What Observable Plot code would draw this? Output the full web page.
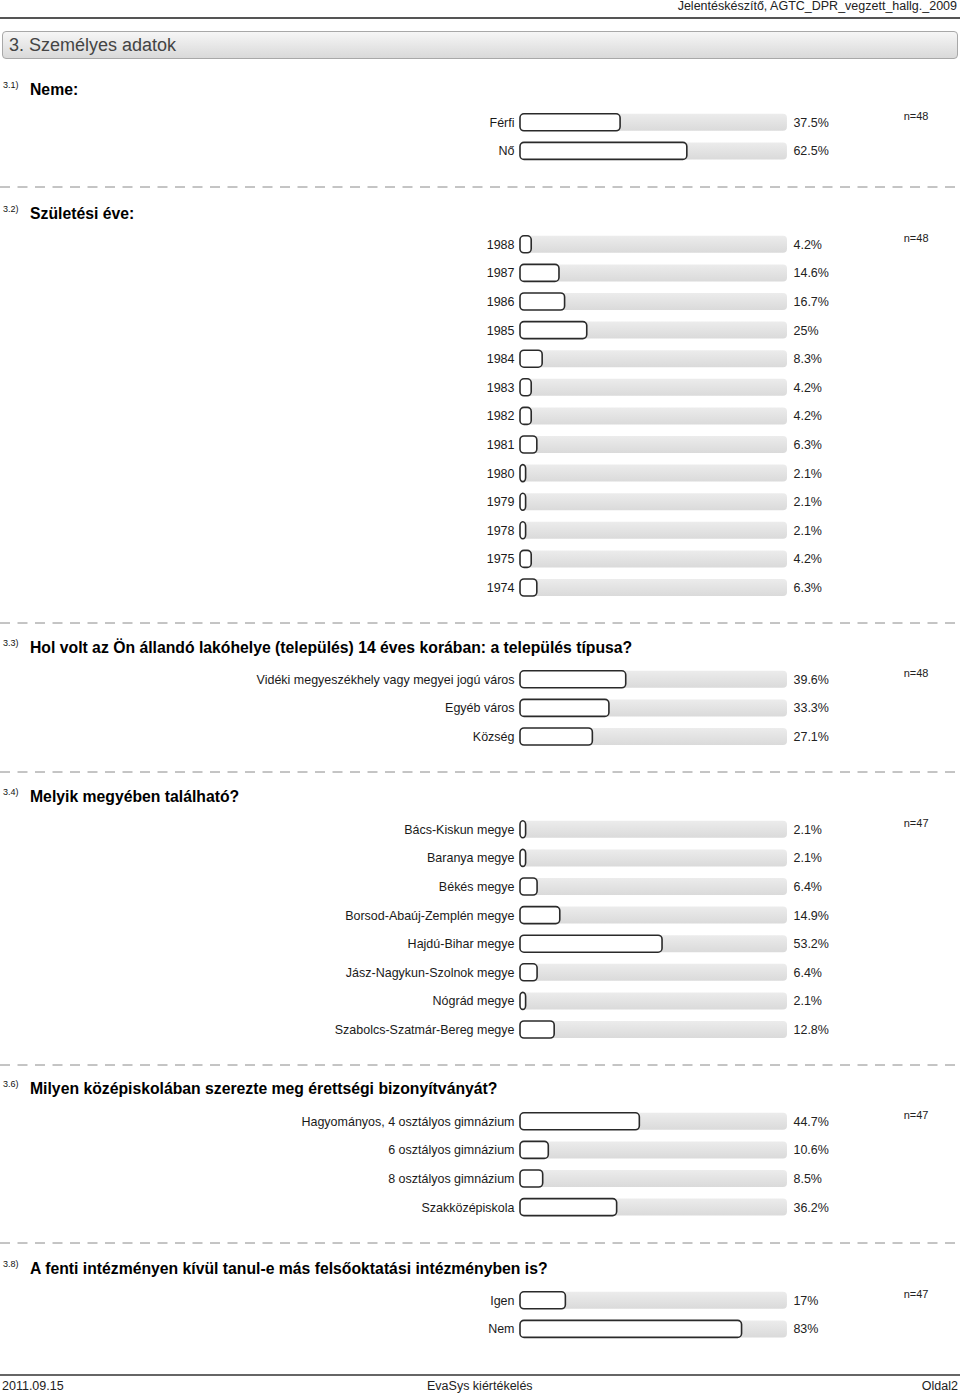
<!DOCTYPE html>
<html>
<head>
<meta charset="utf-8">
<script src="https://cdn.jsdelivr.net/npm/d3@7"></script>
<script src="https://cdn.jsdelivr.net/npm/@observablehq/plot@0.6"></script>
<style>
  html, body { margin: 0; padding: 0; background: #fff; }
  body { font-family: "Liberation Sans", Arial, sans-serif; }
  #page { position: relative; width: 960px; height: 1395px; overflow: hidden; }
  .abs { position: absolute; line-height: 0; }
  .abs svg { display: block; }
  .hdr { right: 3px; top: 0px; font-size: 12.5px; color: #222; line-height: 13px; }
  .topline { left: 0; top: 17px; width: 960px; height: 2px; background: #555; }
  .titlebox { left: 2px; top: 31px; width: 956px; height: 28px; border: 1px solid #a8a8a8; border-radius: 4px;
    background: linear-gradient(#f6f6f6, #d9d9d9); font-size: 18px; color: #444; line-height: 26px; padding-left: 6px; box-sizing: border-box; }
  .qnum { left: 3px; font-size: 9px; color: #111; line-height: 10px; }
  .qtext { left: 30px; font-size: 15.75px; font-weight: bold; color: #000; line-height: 20px; white-space: nowrap; }
  .sep { left: 0; width: 960px; height: 2px; }
  .footline { left: 0; top: 1374px; width: 960px; height: 2px; background: #666; }
  .foot { top: 1379px; font-size: 12.5px; color: #222; line-height: 15px; }
</style>
</head>
<body>
<div id="page"></div>
<script>
// ---------- data ----------
const sectionTitle = "3. Személyes adatok";
const headerText = "Jelentéskészítő, AGTC_DPR_vegzett_hallg._2009";
const footerLeft = "2011.09.15";
const footerCenter = "EvaSys kiértékelés";
const footerRight = "Oldal2";

const q1Num = "3.1)";
const q1Text = "Neme:";
const q1Labels = ["Férfi", "Nő"];
const q1Values = [37.5, 62.5];
const q1N = "n=48";

const q2Num = "3.2)";
const q2Text = "Születési éve:";
const q2Labels = ["1988", "1987", "1986", "1985", "1984", "1983", "1982", "1981", "1980", "1979", "1978", "1975", "1974"];
const q2Values = [4.2, 14.6, 16.7, 25, 8.3, 4.2, 4.2, 6.3, 2.1, 2.1, 2.1, 4.2, 6.3];
const q2N = "n=48";

const q3Num = "3.3)";
const q3Text = "Hol volt az Ön állandó lakóhelye (település) 14 éves korában: a település típusa?";
const q3Labels = ["Vidéki megyeszékhely vagy megyei jogú város", "Egyéb város", "Község"];
const q3Values = [39.6, 33.3, 27.1];
const q3N = "n=48";

const q4Num = "3.4)";
const q4Text = "Melyik megyében található?";
const q4Labels = ["Bács-Kiskun megye", "Baranya megye", "Békés megye", "Borsod-Abaúj-Zemplén megye", "Hajdú-Bihar megye", "Jász-Nagykun-Szolnok megye", "Nógrád megye", "Szabolcs-Szatmár-Bereg megye"];
const q4Values = [2.1, 2.1, 6.4, 14.9, 53.2, 6.4, 2.1, 12.8];
const q4N = "n=47";

const q6Num = "3.6)";
const q6Text = "Milyen középiskolában szerezte meg érettségi bizonyítványát?";
const q6Labels = ["Hagyományos, 4 osztályos gimnázium", "6 osztályos gimnázium", "8 osztályos gimnázium", "Szakközépiskola"];
const q6Values = [44.7, 10.6, 8.5, 36.2];
const q6N = "n=47";

const q8Num = "3.8)";
const q8Text = "A fenti intézményen kívül tanul-e más felsőoktatási intézményben is?";
const q8Labels = ["Igen", "Nem"];
const q8Values = [17, 83];
const q8N = "n=47";

const scaleMax = 100;

// ---------- layout ----------
const page = document.getElementById("page");
function addDiv(cls, text, style) {
  const d = document.createElement("div");
  d.className = "abs " + cls;
  if (text != null) d.textContent = text;
  Object.assign(d.style, style || {});
  page.appendChild(d);
  return d;
}
addDiv("hdr", headerText);
addDiv("topline");
addDiv("titlebox", sectionTitle);

function addSep(y) {
  const d = addDiv("sep", null, { top: (y - 1) + "px" });
  d.innerHTML = '<svg width="960" height="2"><line x1="0" x2="960" y1="1" y2="1" stroke="#8a8a8a" stroke-width="1" stroke-dasharray="10,7.5"/></svg>';
}

const STEP = 28.6;
const BAR = 17;
const pInner = 1 - BAR / STEP;

function section(num, text, labels, values, nText, headY, firstRowY, id) {
  addDiv("qnum", num, { top: (headY - 10) + "px" });
  addDiv("qtext", text, { top: (headY - 10) + "px" });
  const data = labels.map((label, i) => ({ label, value: values[i] }));
  const h = labels.length * STEP;
  const defs = () => {
    const g = d3.create("svg:defs");
    const lg = g.append("linearGradient").attr("id", id).attr("x1", 0).attr("x2", 0).attr("y1", 0).attr("y2", 1);
    lg.append("stop").attr("offset", "0%").attr("stop-color", "#ececec");
    lg.append("stop").attr("offset", "100%").attr("stop-color", "#dadada");
    return g.node();
  };
  const chart = Plot.plot({
    width: 960,
    height: h,
    marginTop: 0, marginBottom: 0, marginLeft: 0, marginRight: 32,
    style: { fontFamily: "'Liberation Sans', Arial, sans-serif", fontSize: "12.5px", color: "#222", background: "transparent", overflow: "visible" },
    x: { domain: [0, scaleMax], range: [520, 787], axis: null },
    y: { domain: labels, paddingInner: pInner, paddingOuter: pInner / 2, round: false, axis: null },
    marks: [
      defs,
      Plot.barX(data, { x1: () => 0, x2: () => scaleMax, y: "label", fill: `url(#${id})`, rx: 4 }),
      Plot.barX(data, { x1: () => 0, x2: "value", y: "label", fill: "white", stroke: "#2a2a2a", strokeWidth: 1.6, rx: 4 }),
      Plot.text(data, { x: () => 0, y: "label", text: "label", textAnchor: "end", dx: -6, fontSize: 12.5, fill: "#1a1a1a" }),
      Plot.text(data, { x: () => scaleMax, y: "label", text: d => d.value + "%", textAnchor: "start", dx: 6, fontSize: 12.5, fill: "#222" }),
      Plot.text([labels[0]], { y: d => d, frameAnchor: "right", text: () => nText, textAnchor: "end", dy: -6, fontSize: 11, fill: "#222" })
    ]
  });
  const wrap = addDiv("", null, { left: "0px", top: (firstRowY - STEP / 2) + "px" });
  wrap.appendChild(chart);
}

section(q1Num, q1Text, q1Labels, q1Values, q1N, 90, 122, "g1");
addSep(187);
section(q2Num, q2Text, q2Labels, q2Values, q2N, 214, 244, "g2");
addSep(623);
section(q3Num, q3Text, q3Labels, q3Values, q3N, 648, 679, "g3");
addSep(772);
section(q4Num, q4Text, q4Labels, q4Values, q4N, 797, 829, "g4");
addSep(1065);
section(q6Num, q6Text, q6Labels, q6Values, q6N, 1089, 1121, "g6");
addSep(1243);
section(q8Num, q8Text, q8Labels, q8Values, q8N, 1269, 1300, "g8");

addDiv("footline");
addDiv("foot", footerLeft, { left: "2px" });
addDiv("foot", footerCenter, { left: "427px" });
addDiv("foot", footerRight, { right: "2px" });
</script>
</body>
</html>
